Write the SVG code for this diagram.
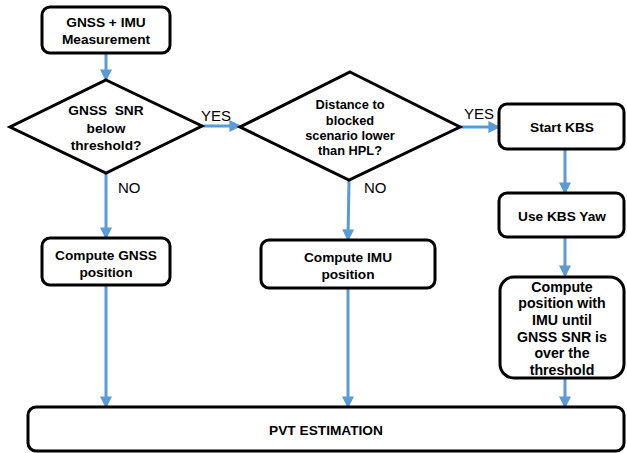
<svg xmlns="http://www.w3.org/2000/svg" width="627" height="453" viewBox="0 0 627 453">
<style>
.box{fill:#fff;stroke:#000;stroke-width:3}
.t{font-family:"Liberation Sans",Arial,sans-serif;font-weight:bold;font-size:13.7px;fill:#000;text-anchor:middle;dominant-baseline:central}
.d2{font-size:12.8px}
.big{font-size:14.2px}
.lbl{font-family:"Liberation Sans",Arial,sans-serif;font-size:15px;fill:#000;dominant-baseline:central}
.c{stroke:#5B9BD5;stroke-width:3;fill:none;marker-end:url(#ah)}
</style>
<defs>
<marker id="ah" markerWidth="4" markerHeight="4" refX="3.2" refY="2" orient="auto" markerUnits="strokeWidth">
<path d="M0,0 L4,2 L0,4 Z" fill="#5B9BD5"/>
</marker>
</defs>
<rect width="627" height="453" fill="#fff"/>
<g id="connectors">
<line class="c" x1="106" y1="53" x2="106" y2="79"/>
<line class="c" x1="202" y1="126" x2="239" y2="126"/>
<line class="c" x1="460" y1="127" x2="498" y2="127"/>
<line class="c" x1="106" y1="173" x2="106" y2="237"/>
<line class="c" x1="349" y1="180" x2="348" y2="239"/>
<line class="c" x1="565" y1="149" x2="565" y2="192"/>
<line class="c" x1="565" y1="237" x2="565" y2="275"/>
<line class="c" x1="106" y1="285" x2="106" y2="406"/>
<line class="c" x1="348" y1="288" x2="348" y2="406"/>
<line class="c" x1="565" y1="378" x2="565" y2="406"/>
<text class="lbl" x="201" y="115">YES</text>
<text class="lbl" x="464" y="113">YES</text>
<text class="lbl" x="118" y="187">NO</text>
<text class="lbl" x="364" y="187">NO</text>
</g>
<g id="start">
<rect class="box" x="42" y="7" width="128" height="46" rx="8"/>
<text class="t" x="106" y="22">GNSS + IMU</text>
<text class="t" x="106" y="39">Measurement</text>
</g>
<g id="dec1">
<polygon class="box" points="106,80 202,126 106,173 10,127"/>
<text class="t" x="106" y="110" xml:space="preserve" style="white-space:pre">GNSS  SNR</text>
<text class="t" x="106" y="128">below</text>
<text class="t" x="106" y="145">threshold?</text>
</g>
<g id="dec2">
<polygon class="box" points="350,72 460,127 349,180 240,127"/>
<text class="t d2" x="350" y="104">Distance to</text>
<text class="t d2" x="350" y="120">blocked</text>
<text class="t d2" x="350" y="135">scenario lower</text>
<text class="t d2" x="350" y="150">than HPL?</text>
</g>
<g id="startkbs">
<rect class="box" x="499" y="104" width="125" height="45" rx="8"/>
<text class="t" x="562" y="127">Start KBS</text>
</g>
<g id="kbsyaw">
<rect class="box" x="499" y="193" width="125" height="44" rx="8"/>
<text class="t" x="562" y="216">Use KBS Yaw</text>
</g>
<g id="computeimuuntil">
<rect class="box" x="500" y="277" width="124" height="101" rx="14"/>
<text class="t big" x="562" y="287">Compute</text>
<text class="t big" x="562" y="303">position with</text>
<text class="t big" x="562" y="320">IMU until</text>
<text class="t big" x="562" y="337">GNSS SNR is</text>
<text class="t big" x="562" y="353">over the</text>
<text class="t big" x="562" y="370">threshold</text>
</g>
<g id="computegnss">
<rect class="box" x="42" y="238" width="128" height="47" rx="8"/>
<text class="t" x="106" y="255">Compute GNSS</text>
<text class="t" x="106" y="272">position</text>
</g>
<g id="computeimu">
<rect class="box" x="261" y="240" width="174" height="48" rx="8"/>
<text class="t" x="348" y="257">Compute IMU</text>
<text class="t" x="348" y="274">position</text>
</g>
<g id="pvt">
<rect class="box" x="28" y="407" width="596" height="44" rx="8"/>
<text class="t" x="326" y="430">PVT ESTIMATION</text>
</g>
</svg>
